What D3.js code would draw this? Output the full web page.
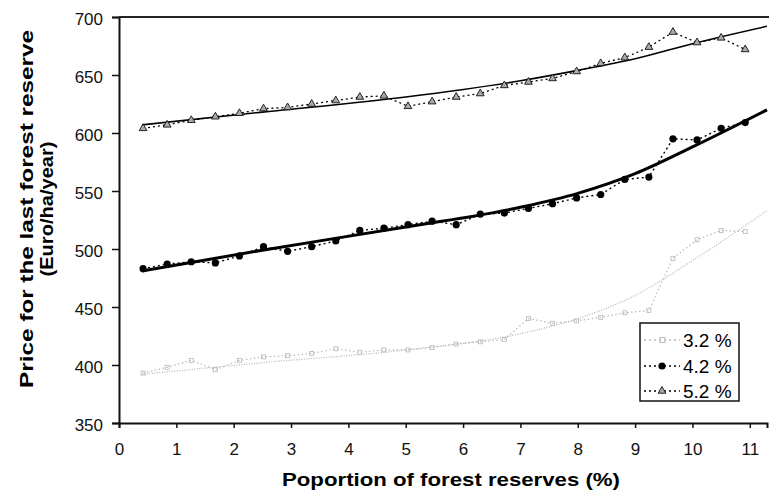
<!DOCTYPE html>
<html><head><meta charset="utf-8">
<script src="https://cdn.jsdelivr.net/npm/d3@7"></script>
<style>
html,body{margin:0;padding:0;background:#fff;}
svg{display:block;font-family:"Liberation Sans",Arial,sans-serif;}
</style></head>
<body>
<svg id="chart" width="769" height="494"></svg>
<script>
// ---- data ----
const xPoints = [0.42,0.84,1.26,1.68,2.1,2.52,2.94,3.36,3.78,4.2,4.62,5.04,5.46,5.88,6.3,6.72,7.14,7.56,7.98,8.4,8.82,9.24,9.66,10.08,10.5,10.92];
const series32 = [393,398,404,396,404,407,408,410,414,411,413,413,415,418,420,422,440,436,438,441,445,447,492,508,516,515];
const series42 = [483,487,489,488,494,502,498,502,507,516,518,521,524,521,530,531,535,539,544,547,560,562,595,594,604,609];
const series52 = [604,607,611,614,617,621,622,625,628,631,632,623,627,631,634,641,644,647,653,660,665,674,687,678,682,672];
const trendX  = [0.4,2.5,5,7,8,9,10,11.3];
const trend32 = [392,402,413,427,440,460,490,533];
const trend42 = [481,499,519,536,548,565,588,620];
const trend52 = [607,618,631,645,654,664,677,692];
const seriesNames = ["3.2 %","4.2 %","5.2 %"];
const xTicks = [0,1,2,3,4,5,6,7,8,9,10,11];
const yTicks = [350,400,450,500,550,600,650,700];

const svg = d3.select("#chart");
const x = d3.scaleLinear().domain([0,11.3]).range([119,767]);
const y = d3.scaleLinear().domain([350,700]).range([423,17]);

const gray = "#b8b8b8";

// axes
const xAxis = svg.append("g").attr("transform","translate(0,423)")
  .call(d3.axisBottom(x).tickValues(xTicks).tickSize(5).tickPadding(15).tickFormat(d3.format("d")));
xAxis.select(".domain").attr("stroke","#111").attr("stroke-width",2);
xAxis.selectAll(".tick line").attr("stroke","#111").attr("stroke-width",1.5);
xAxis.selectAll("text").attr("font-size",17).attr("fill","#111");

const yAxis = svg.append("g").attr("transform","translate(119,0)")
  .call(d3.axisLeft(y).tickValues(yTicks).tickSize(7).tickPadding(9));
yAxis.select(".domain").attr("stroke","#111").attr("stroke-width",2);
yAxis.selectAll(".tick line").attr("stroke","#111").attr("stroke-width",1.5);
yAxis.selectAll("text").attr("font-size",17).attr("fill","#111").attr("dy","0.45em");

// top frame line
svg.append("line").attr("x1",x(0)).attr("x2",769).attr("y1",y(700)).attr("y2",y(700))
  .attr("stroke","#222").attr("stroke-width",2);

const ptLine = d3.line().x((d,i)=>x(xPoints[i])).y(d=>y(d));
const trLine = d3.line().x((d,i)=>x(trendX[i])).y(d=>y(d)).curve(d3.curveMonotoneX);

// 3.2 %
svg.append("path").datum(trend32).attr("d",trLine).attr("fill","none").attr("stroke",gray).attr("stroke-width",1.3).attr("stroke-dasharray","1,1.5");
svg.append("path").datum(series32).attr("d",ptLine).attr("fill","none").attr("stroke",gray).attr("stroke-width",1.2).attr("stroke-dasharray","1.5,2.5");
svg.append("g").selectAll("rect").data(series32).join("rect")
  .attr("x",(d,i)=>x(xPoints[i])-2).attr("y",d=>y(d)-2).attr("width",4).attr("height",4)
  .attr("fill","none").attr("stroke",gray).attr("stroke-width",0.8);

// 4.2 %
svg.append("path").datum(trend42).attr("d",trLine).attr("fill","none").attr("stroke","#000").attr("stroke-width",3);
svg.append("path").datum(series42).attr("d",ptLine).attr("fill","none").attr("stroke","#000").attr("stroke-width",1.4).attr("stroke-dasharray","2,3");
svg.append("g").selectAll("circle").data(series42).join("circle")
  .attr("cx",(d,i)=>x(xPoints[i])).attr("cy",d=>y(d)).attr("r",3.6).attr("fill","#000");

// 5.2 %
svg.append("path").datum(trend52).attr("d",trLine).attr("fill","none").attr("stroke","#000").attr("stroke-width",1.6);
svg.append("path").datum(series52).attr("d",ptLine).attr("fill","none").attr("stroke","#000").attr("stroke-width",1.3).attr("stroke-dasharray","2,3");
const tri = d3.symbol().type(d3.symbolTriangle).size(26);
svg.append("g").selectAll("path").data(series52).join("path")
  .attr("d",tri).attr("transform",(d,i)=>`translate(${x(xPoints[i])},${y(d)})`)
  .attr("fill","#aaa").attr("stroke","#111").attr("stroke-width",0.9);

// legend
const lg = svg.append("g").attr("transform","translate(640,323)");
lg.append("rect").attr("width",99).attr("height",78).attr("fill","#fff").attr("stroke","#111").attr("stroke-width",1.5);
const rowsY = [17,43,68];
seriesNames.forEach((name,i)=>{
  const g = lg.append("g").attr("transform",`translate(0,${rowsY[i]})`);
  const col = i===0?gray:"#000";
  g.append("line").attr("x1",4).attr("x2",40).attr("stroke",col).attr("stroke-width",1.4).attr("stroke-dasharray","2,3");
  if(i===0) g.append("rect").attr("x",20).attr("y",-2.5).attr("width",5).attr("height",5).attr("fill","none").attr("stroke",gray);
  if(i===1) g.append("circle").attr("cx",22).attr("r",3.6).attr("fill","#000");
  if(i===2) g.append("path").attr("d",tri).attr("transform","translate(22,0)").attr("fill","#aaa").attr("stroke","#111").attr("stroke-width",0.9);
  g.append("text").attr("x",43).attr("y",7).attr("font-size",19).attr("fill","#000").text(name);
});

// axis titles
svg.append("text").attr("x",451).attr("y",486).attr("text-anchor","middle")
  .attr("font-size",18).attr("font-weight","bold")
  .attr("textLength",338).attr("lengthAdjust","spacingAndGlyphs")
  .text("Poportion of forest reserves (%)");
const yt = svg.append("text").attr("transform","translate(0,209) rotate(-90)").attr("text-anchor","middle")
  .attr("font-size",18).attr("font-weight","bold");
yt.append("tspan").attr("x",0).attr("y",33).attr("textLength",358).attr("lengthAdjust","spacingAndGlyphs").text("Price for the last forest reserve");
yt.append("tspan").attr("x",0).attr("y",53).attr("textLength",135).attr("lengthAdjust","spacingAndGlyphs").text("(Euro/ha/year)");
</script>
</body></html>
